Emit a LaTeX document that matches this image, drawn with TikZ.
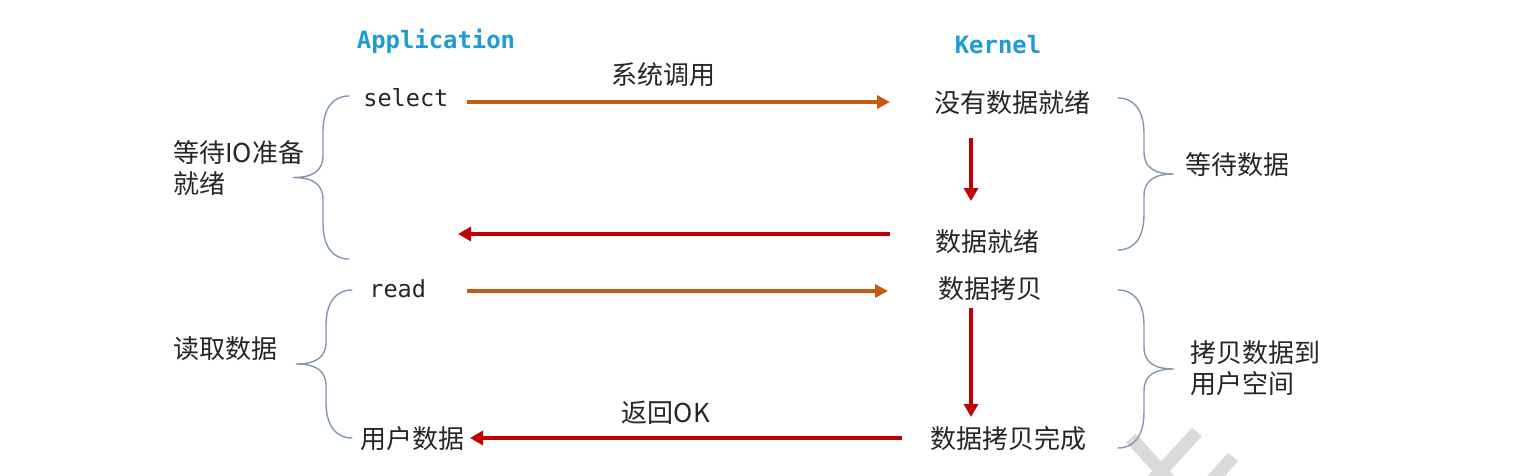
\documentclass[tikz,border=0pt]{standalone}
\usepackage{fontspec}
\setmainfont{Noto Sans CJK SC}
\setmonofont{DejaVu Sans Mono}
\usetikzlibrary{arrows.meta}

\definecolor{titleblue}{RGB}{30,155,215}
\definecolor{callorange}{RGB}{197,90,17}
\definecolor{backred}{RGB}{192,0,0}
\definecolor{bracegray}{RGB}{132,151,176}
\definecolor{textgray}{RGB}{38,38,38}
\definecolor{markgray}{RGB}{218,218,218}

\begin{document}
\begin{tikzpicture}[x=0.02cm, y=-0.02cm]

\useasboundingbox (0,0) rectangle (1514,476);

% watermark

\begin{scope}
\clip (0,0) rectangle (1514,476);
\tikzstyle{mark stroke} = [line width=0.26cm, color=markgray]
\draw [mark stroke] (1131,438) -- (1182,494);
\draw [mark stroke] (1197,432) -- (1140,494);
\draw [mark stroke] (1233,457) -- (1200,494);
\end{scope}

% styles

\tikzstyle{title text} = [font=\ttfamily\bfseries\fontsize{13.6}{16}\selectfont, text=titleblue, inner sep=0pt]
\tikzstyle{code text} = [font=\ttfamily\fontsize{13.4}{16}\selectfont, text=textgray, inner sep=0pt]
\tikzstyle{step text} = [font=\fontsize{14.8}{17.6}\selectfont, text=textgray, inner sep=0pt]
\tikzstyle{side text} = [font=\fontsize{14.8}{17.6}\selectfont, text=textgray, inner sep=0pt, align=left]

\tikzstyle{call arrow} =
	[line width=0.08cm, color=callorange, -{Triangle[length=0.26cm, width=0.26cm]}]
\tikzstyle{back arrow} =
	[line width=0.08cm, color=backred, -{Triangle[length=0.26cm, width=0.28cm]}]
\tikzstyle{brace line} = [line width=0.028cm, color=bracegray, line cap=round]

% column titles

\node [title text, anchor=base] (application) at (436,49) {Application} ;
\node [title text, anchor=base] (kernel) at (998,54) {Kernel} ;

% application side

\node [code text, anchor=base west] (select) at (363,107) {select} ;
\node [code text, anchor=base west] (read) at (369,297) {read} ;
\node [step text, anchor=base west] (userdata) at (360,448) {用户数据} ;

% kernel side

\node [step text, anchor=base] (nodata) at (1012,113) {没有数据就绪} ;
\node [step text, anchor=base] (dataready) at (987,252) {数据就绪} ;
\node [step text, anchor=base] (datacopy) at (990,298) {数据拷贝} ;
\node [step text, anchor=base] (copydone) at (1008,448) {数据拷贝完成} ;

% arrow labels

\node [step text, anchor=base] (syscall) at (663,85) {系统调用} ;
\node [step text, anchor=base] (returnok) at (666,422) {返回OK} ;

% arrows

\coordinate (select out) at (467,102) ;
\coordinate (nodata in) at (890,102) ;
\coordinate (ready out) at (890,234) ;
\coordinate (select back) at (458,234) ;
\coordinate (read out) at (467,291) ;
\coordinate (copy in) at (888,291) ;
\coordinate (done out) at (902,438) ;
\coordinate (userdata in) at (470,438) ;
\coordinate (nodata down) at (971,138) ;
\coordinate (ready up) at (971,201) ;
\coordinate (copy down) at (971,308) ;
\coordinate (done up) at (971,417) ;

\draw [call arrow] (select out) -- (nodata in) ;
\draw [back arrow] (ready out) -- (select back) ;
\draw [call arrow] (read out) -- (copy in) ;
\draw [back arrow] (done out) -- (userdata in) ;
\draw [back arrow] (nodata down) -- (ready up) ;
\draw [back arrow] (copy down) -- (done up) ;

% braces

\newcommand\curlybrace[4]{% end x, top y, bottom y, side (1 or -1)
	\pgfmathsetmacro\bendx{#1 + #4*16}
	\pgfmathsetmacro\bvx{#1 + #4*26}
	\pgfmathsetmacro\bcx{#1 + #4*37}
	\pgfmathsetmacro\btipx{#1 + #4*56}
	\pgfmathsetmacro\bmid{(#2 + #3) / 2}
	\draw [brace line] (#1,#2) .. controls (\bendx,#2) and (\bvx,#2+12) .. (\bvx,#2+36)
		-- (\bvx,\bmid-22) .. controls (\bvx,\bmid-6) and (\bcx,\bmid) .. (\btipx,\bmid)
		.. controls (\bcx,\bmid) and (\bvx,\bmid+6) .. (\bvx,\bmid+22)
		-- (\bvx,#3-36) .. controls (\bvx,#3-12) and (\bendx,#3) .. (#1,#3) ;
}

\curlybrace{349}{96}{259}{-1}
\curlybrace{352}{290}{438}{-1}
\curlybrace{1118}{98}{250}{1}
\curlybrace{1118}{290}{448}{1}

% brace labels

\node [side text, anchor=west] (waitio) at (173,168) {等待IO准备\\就绪} ;
\node [side text, anchor=base west] (readdata) at (173,358) {读取数据} ;
\node [side text, anchor=base west] (waitdata) at (1185,175) {等待数据} ;
\node [side text, anchor=west] (copyuser) at (1190,368) {拷贝数据到\\用户空间} ;

\end{tikzpicture}
\end{document}
